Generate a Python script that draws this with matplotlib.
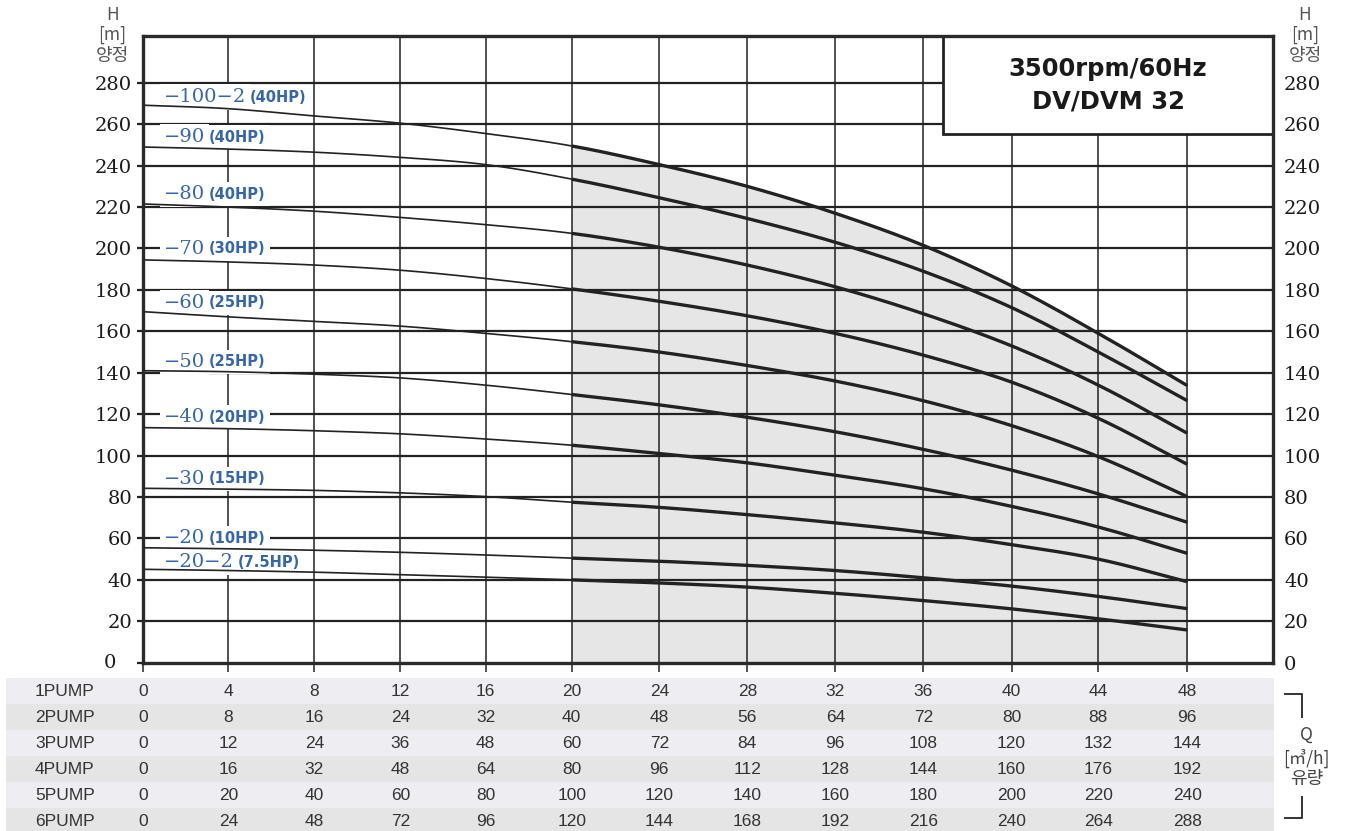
import numpy as np
import matplotlib
matplotlib.use("Agg")
import matplotlib.pyplot as plt
from matplotlib.patches import Rectangle
from matplotlib.lines import Line2D
from matplotlib.ticker import NullLocator
from matplotlib.transforms import blended_transform_factory

# ---------------- data ----------------
flow_1pump = [0, 4, 8, 12, 16, 20, 24, 28, 32, 36, 40, 44, 48]
pump_rows = ["1PUMP", "2PUMP", "3PUMP", "4PUMP", "5PUMP", "6PUMP"]
pump_counts = [1, 2, 3, 4, 5, 6]

model_names = ["−100−2", "−90", "−80", "−70", "−60", "−50", "−40", "−30", "−20", "−20−2"]
model_power = ["(40HP)", "(40HP)", "(40HP)", "(30HP)", "(25HP)", "(25HP)",
               "(20HP)", "(15HP)", "(10HP)", "(7.5HP)"]

head_100_2 = [269.2, 267.5, 264.0, 260.5, 255.5, 249.5, 240.5, 230.0, 217.0, 201.5, 182.0, 159.0, 133.8]
head_90 = [249.0, 248.0, 246.5, 244.0, 240.5, 233.5, 224.5, 214.5, 203.0, 189.0, 171.5, 150.0, 126.5]
head_80 = [221.5, 220.0, 218.0, 215.0, 211.5, 207.3, 200.6, 192.0, 181.5, 168.5, 153.0, 134.0, 110.8]
head_70 = [194.5, 193.5, 192.0, 189.5, 185.5, 180.5, 174.5, 167.5, 159.0, 148.5, 135.5, 118.0, 95.8]
head_60 = [169.5, 167.0, 164.8, 162.5, 159.0, 155.0, 150.0, 143.5, 136.0, 126.5, 114.5, 99.5, 80.2]
head_50 = [141.0, 140.5, 139.3, 137.5, 134.0, 129.5, 124.5, 118.5, 111.5, 103.0, 93.0, 81.5, 67.8]
head_40 = [113.5, 113.0, 112.0, 110.5, 108.0, 105.0, 101.0, 96.5, 90.5, 84.0, 75.5, 65.5, 52.8]
head_30 = [84.2, 83.8, 83.2, 82.0, 80.2, 77.5, 75.0, 71.5, 67.5, 63.0, 57.0, 50.0, 39.1]
head_20 = [55.5, 55.0, 54.3, 53.3, 52.0, 50.5, 49.0, 47.0, 44.5, 41.0, 37.0, 32.0, 26.1]
head_20_2 = [45.1, 44.5, 43.7, 42.5, 41.3, 40.0, 38.5, 36.5, 33.5, 30.0, 26.0, 21.2, 15.8]

curves = [head_100_2, head_90, head_80, head_70, head_60, head_50,
          head_40, head_30, head_20, head_20_2]
label_heads = [273.1, 253.8, 226.3, 199.8, 173.7, 145.2, 118.6, 88.7, 60.2, 48.6]

head_ticks = list(range(0, 281, 20))
operating_start = 20

# ---------------- helpers ----------------
W, H = 1345, 831


def fx(px):
    return px / W


def fy(py):
    return 1 - py / H


def catmull_rom(xs, ys, n=24):
    """Smooth curve through the given points for drawing."""
    xs = np.asarray(xs, float)
    ys = np.asarray(ys, float)
    yp = np.concatenate([[2 * ys[0] - ys[1]], ys, [2 * ys[-1] - ys[-2]]])
    out_x, out_y = [], []
    for i in range(len(xs) - 1):
        p0, p1, p2, p3 = yp[i], yp[i + 1], yp[i + 2], yp[i + 3]
        t = np.linspace(0, 1, n, endpoint=False)
        y = 0.5 * (2 * p1 + (-p0 + p2) * t + (2 * p0 - 5 * p1 + 4 * p2 - p3) * t ** 2
                   + (-p0 + 3 * p1 - 3 * p2 + p3) * t ** 3)
        out_x.append(xs[i] + (xs[i + 1] - xs[i]) * t)
        out_y.append(y)
    out_x.append([xs[-1]])
    out_y.append([ys[-1]])
    return np.concatenate(out_x), np.concatenate(out_y)


# flow axis as printed on the chart sheet (columns are not perfectly even)
scale_q = np.array([0, 4, 8, 12, 16, 20, 24, 28, 32, 36, 40, 44, 48, 52], float)
scale_pos = np.array([0, 85.6, 171.6, 257.6, 343.0, 429.0, 516.6, 604.6, 692.6,
                      780.6, 868.8, 955.6, 1044.6, 1130.6])


def q_fwd(q):
    return np.interp(q, scale_q, scale_pos)


def q_inv(p):
    return np.interp(p, scale_pos, scale_q)


# ---------------- figure ----------------
fig = plt.figure(figsize=(13.45, 8.31), dpi=100)
ax = fig.add_axes([fx(142.7), fy(662.7), fx(1273.3 - 142.7), (662.7 - 36) / H])
ax.set_xscale("function", functions=(q_fwd, q_inv))
ax.set_xlim(0, 52)
ax.set_ylim(0, 302.6)

dark = "#222222"

# shaded operating range below the top curve
dx, dy = catmull_rom(flow_1pump, head_100_2)
m = dx >= operating_start
ax.fill_between(dx[m], 0, dy[m], color="#e6e6e6", zorder=0.5, lw=0)

# grid
for y in head_ticks[1:]:
    ax.axhline(y, color=dark, lw=1.6, zorder=1)
for x in flow_1pump[1:]:
    ax.axvline(x, color=dark, lw=1.1, zorder=1)

# curves: thin outside the operating range, bold inside it
for heads in curves:
    cx, cy = catmull_rom(flow_1pump, heads)
    a = cx <= operating_start
    b = cx >= operating_start
    ax.plot(cx[a], cy[a], color=dark, lw=1.2, zorder=3, solid_capstyle="butt")
    ax.plot(cx[b], cy[b], color=dark, lw=2.4, zorder=3, solid_capstyle="butt")

# model labels
blue = "#3566ad"
for name, hp, yv in zip(model_names, model_power, label_heads):
    t1 = ax.text(0.98, yv, name, fontsize=14, family="DejaVu Serif", color=blue,
                 va="center", ha="left", zorder=2,
                 bbox=dict(boxstyle="square,pad=0.2", fc="white", ec="none"))
    ax.annotate(hp, xy=(1, 0.5), xycoords=t1, xytext=(3, 0), textcoords="offset points",
                fontsize=10.5, family="DejaVu Sans", weight="bold", color=blue,
                va="center", ha="left", zorder=2,
                bbox=dict(boxstyle="square,pad=0.3", fc="white", ec="none"))

# title box
bx0 = q_inv(942.7 - 142.7)
by0 = (662.7 - 134.3) / 2.071
ax.add_patch(Rectangle((bx0, by0), 52 - bx0, 302.6 - by0, fc="white", ec=dark,
                       lw=2.0, zorder=5))
xmid = q_inv((q_fwd(bx0) + q_fwd(52)) / 2)
ax.text(xmid, by0 + (302.6 - by0) * 0.66, "3500rpm/60Hz", fontsize=17.5,
        weight="bold", family="DejaVu Sans", color="#1a1a1a", ha="center", va="center", zorder=6)
ax.text(xmid, by0 + (302.6 - by0) * 0.33, "DV/DVM 32", fontsize=17.5,
        weight="bold", family="DejaVu Sans", color="#1a1a1a", ha="center", va="center", zorder=6)

# axes styling
for s in ax.spines.values():
    s.set_linewidth(2.4)
    s.set_color("#2a2a2a")
    s.set_zorder(7)

ax.set_xticks(flow_1pump)
ax.set_xticklabels([])
ax.xaxis.set_minor_locator(NullLocator())
ax.tick_params(axis="x", direction="out", length=6.5, width=1.1, color=dark)
ax.set_yticks(head_ticks)
ax.set_yticklabels([str(v) for v in head_ticks])
ax.tick_params(axis="y", direction="out", length=4.5, width=1.6, color=dark,
               left=True, right=False, labelleft=True, labelright=True, pad=3.2,
               labelsize=14, labelcolor="#1a1a1a")
for tk in ax.yaxis.get_major_ticks():
    tk.label2.set_family("DejaVu Serif")
    tk.label1.set_family("DejaVu Serif")
ax.yaxis.get_major_ticks()[0].label1.set_visible(False)
fig.text(fx(110), fy(663), "0", fontsize=14, family="DejaVu Serif", color="#1a1a1a",
         ha="center", va="center")

# axis captions
cap_font = ["Noto Sans CJK KR", "DejaVu Sans"]
for cx_px in (112.5, 1305):
    fig.text(fx(cx_px), fy(14.5), "H", fontsize=12.5, family=cap_font, color="#555555",
             ha="center", va="center")
    fig.text(fx(cx_px), fy(35), "[m]", fontsize=12.5, family=cap_font, color="#555555",
             ha="center", va="center")
    fig.text(fx(cx_px), fy(56), "양정", fontsize=13, family=cap_font, color="#555555",
             ha="center", va="center")

# flow table beneath the axes
row_top = 677.7
row_h = 26
row_colors = ["#eeeef2", "#e5e5e5"]
tr = blended_transform_factory(ax.transData, fig.transFigure)
for i, (name, n) in enumerate(zip(pump_rows, pump_counts)):
    top = row_top + i * row_h
    fig.add_artist(Rectangle((fx(6), fy(top + row_h)), fx(1274 - 6), row_h / H,
                             transform=fig.transFigure, fc=row_colors[i % 2], ec="none",
                             zorder=0))
    yc = fy(top + row_h / 2 + 0.5)
    fig.text(fx(35), yc, name, fontsize=12.5, family="Liberation Sans", color="#333333",
             ha="left", va="center")
    for q in flow_1pump:
        fig.text(q, yc, str(q * n), transform=tr, fontsize=12.5, family="Liberation Sans",
                 color="#333333", ha="center", va="center")

# flow caption with brackets
br = "#333333"
fig.add_artist(Line2D([fx(1285), fx(1301.7), fx(1301.7)], [fy(694.3), fy(694.3), fy(716.7)],
                      transform=fig.transFigure, color=br, lw=1.4))
fig.add_artist(Line2D([fx(1301.7), fx(1301.7), fx(1285)], [fy(796.7), fy(817.7), fy(817.7)],
                      transform=fig.transFigure, color=br, lw=1.4))
fig.text(fx(1306.7), fy(735), "Q", fontsize=12.5, family=cap_font, color="#444444",
         ha="center", va="center")
fig.text(fx(1306.7), fy(758.3), "[㎥/h]", fontsize=12.5, family=cap_font, color="#444444",
         ha="center", va="center")
fig.text(fx(1306.7), fy(779.3), "유량", fontsize=13, family=cap_font, color="#444444",
         ha="center", va="center")

fig.savefig("out.png", dpi=100, facecolor="white")
